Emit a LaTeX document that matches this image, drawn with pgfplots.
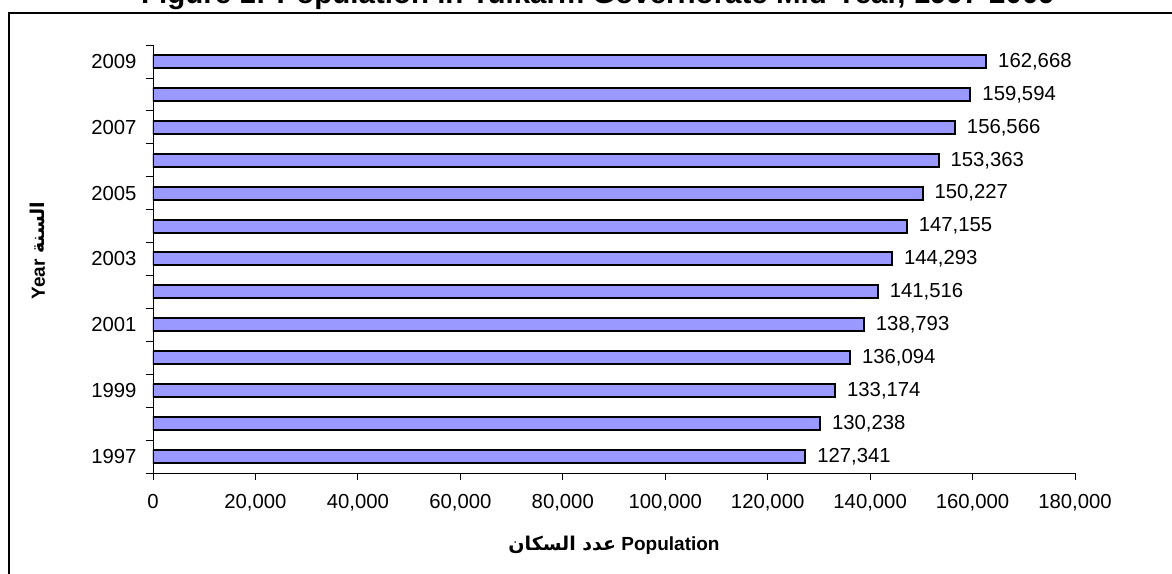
\documentclass[border=0pt]{standalone}
\usepackage{fontspec}
\setmainfont{Liberation Sans}
\newfontfamily\arabicfont[Script=Arabic]{DejaVu Sans}
\TeXXeTstate=1
\usepackage{pgfplots}
\pgfplotsset{compat=1.18}
\definecolor{barblue}{HTML}{9999FF}
\newcommand\lbl{\fontsize{20.3}{24}\selectfont}

\begin{document}
\begin{tikzpicture}[x=1pt,y=1pt]
\useasboundingbox (0,0) rectangle (1172,573);
\clip (0,0) rectangle (1172,573);
% outer chart frame (cut by the picture edge)
\draw[line width=1.3pt] (9,-20) -- (9,560) -- (1200,560);
\node[font=\fontsize{29.5}{35}\selectfont\bfseries, anchor=base] at (598,569)
  {Figure 1: Population in Tulkarm Governorate Mid-Year, 1997-2009};
\begin{axis}[
    at={(153pt,100pt)}, anchor=south west,
    width=922pt, height=428pt, scale only axis,
    xbar, bar width=13pt,
    xmin=0, xmax=180000,
    ymin=-0.5, ymax=12.5,
    axis x line*=bottom, axis y line*=left,
    axis line style={-, line width=0.8pt},
    tick align=outside,
    major tick length=7pt,
    tick style={black, line width=0.8pt},
    xtick={0,20000,...,180000},
    scaled x ticks=false,
    ytick={-0.5,0.5,1.5,2.5,3.5,4.5,5.5,6.5,7.5,8.5,9.5,10.5,11.5,12.5},
    y tick label as interval,
    yticklabels={1997,,1999,,2001,,2003,,2005,,2007,,2009},
    /pgf/number format/assume math mode=true,
    /pgf/number format/fixed,
    /pgf/number format/precision=0,
    /pgf/number format/1000 sep={,},
    tick label style={font=\lbl},
    xticklabel style={yshift=-11pt},
    yticklabel style={xshift=-6pt},
    point meta=x,
    nodes near coords={\pgfmathprintnumber[fixed,precision=0,1000 sep={,}]{\pgfplotspointmeta}},
    nodes near coords style={anchor=west, inner sep=0pt, xshift=11pt, font=\lbl},
    xlabel={{\arabicfont\beginR عدد السكان\endR} Population},
    xlabel style={at={(axis description cs:0.5,-0.168)}, anchor=center, font=\fontsize{19}{23}\selectfont\bfseries},
    ylabel={Year {\arabicfont\beginR السنة\endR}},
    ylabel style={at={(axis description cs:-0.125,0.52)}, anchor=center, font=\fontsize{19}{23}\selectfont\bfseries},
]
\addplot[fill=barblue, draw=black, line width=2pt] coordinates {
    (127341,0)
    (130238,1)
    (133174,2)
    (136094,3)
    (138793,4)
    (141516,5)
    (144293,6)
    (147155,7)
    (150227,8)
    (153363,9)
    (156566,10)
    (159594,11)
    (162668,12)
};
\end{axis}
\end{tikzpicture}
\end{document}
